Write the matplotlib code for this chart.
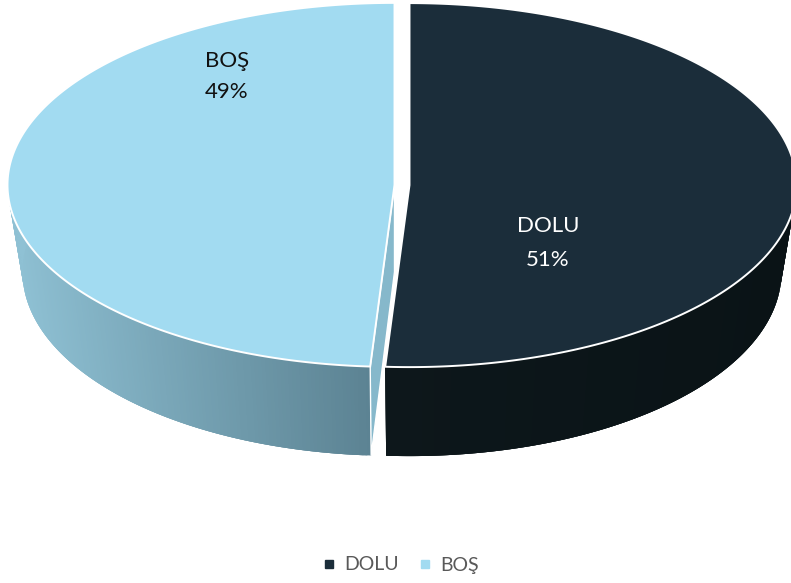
import numpy as np
import matplotlib.pyplot as plt
from matplotlib.patches import Polygon
from matplotlib.lines import Line2D
from matplotlib.colors import to_rgb

plt.rcParams['font.family'] = ['Lato', 'DejaVu Sans']

# ---- data ----
labels = ['DOLU', 'BOŞ']
values = [51, 49]
pct_labels = ['51%', '49%']
top_colors = ['#1b2d3a', '#a2dbf1']
side_left = ['#0d171b', '#8fc1d4']
side_right = ['#0a1316', '#5c8393']
cut_colors = ['#0d171b', '#86b8cb']
label_colors = ['white', '#111111']
label_pos = [(548, 232, 266), (227, 67, 98)]  # x, baseline name, baseline pct
legend_color = '#595959'

# ---- layout (pixels) ----
W, H = 791, 583
CX, CY, RX, RY = 402, 185, 387, 182
BCY, BRX, BRY = 272, 372, 184
EXPLODE = 7.5

fig = plt.figure(figsize=(W / 100, H / 100), dpi=100)
ax = fig.add_axes([0, 0, 1, 1])
ax.set_xlim(0, W)
ax.set_ylim(H, 0)
ax.axis('off')

fr = np.array(values, dtype=float) / sum(values)
starts = 90 - 360 * np.concatenate([[0], np.cumsum(fr)[:-1]])
ends = starts - 360 * fr


def geom(i):
    mid = np.radians((starts[i] + ends[i]) / 2)
    ox = EXPLODE * np.cos(mid)
    oy = -EXPLODE * np.sin(mid) * RY / RX
    return ox, oy


def top_pt(i, th):
    ox, oy = geom(i)
    t = np.radians(th)
    return CX + ox + RX * np.cos(t), CY + oy - RY * np.sin(t)


def bot_pt(i, th):
    ox, oy = geom(i)
    t = np.radians(th)
    return CX + ox + BRX * np.cos(t), BCY + oy - BRY * np.sin(t)


def lerp(c1, c2, f):
    a, b = np.array(to_rgb(c1)), np.array(to_rgb(c2))
    return tuple(a + (b - a) * f)


# sides (overlapping strips so no anti-alias seams)
for i in range(len(values)):
    ths = np.linspace(starts[i], ends[i], 300)
    ths = ths[np.sin(np.radians(ths)) <= 0.35]
    xs = [top_pt(i, t)[0] for t in ths]
    xmin, xmax = min(xs), max(xs)
    for k in range(len(ths) - 1):
        a = ths[k]
        b = ths[min(k + 3, len(ths) - 1)]
        q = [top_pt(i, a), top_pt(i, b), bot_pt(i, b), bot_pt(i, a)]
        f = (xs[k] - xmin) / (xmax - xmin) if xmax > xmin else 0
        c = lerp(side_left[i], side_right[i], f)
        ax.add_patch(Polygon(q, closed=True, facecolor=c, edgecolor='none', zorder=1))

# cut faces
for i in range(len(values)):
    ox, oy = geom(i)
    for th, nrm in [(starts[i], starts[i] + 90), (ends[i], ends[i] - 90)]:
        if np.sin(np.radians(nrm)) < -1e-3:
            poly = [(CX + ox, CY + oy), top_pt(i, th), bot_pt(i, th), (CX + ox, BCY + oy)]
            ax.add_patch(Polygon(poly, closed=True, facecolor=cut_colors[i],
                                 edgecolor='white', lw=1.0, zorder=2))

# tops
for i in range(len(values)):
    ox, oy = geom(i)
    ths = np.linspace(starts[i], ends[i], 600)
    poly = [(CX + ox, CY + oy)] + [top_pt(i, t) for t in ths]
    ax.add_patch(Polygon(poly, closed=True, facecolor=top_colors[i],
                         edgecolor='white', lw=1.4, zorder=3))

# labels
for i in range(len(values)):
    x, y1, y2 = label_pos[i]
    ax.text(x, y1, labels[i], ha='center', va='baseline', fontsize=16,
            color=label_colors[i], zorder=5)
    ax.text(x, y2, pct_labels[i], ha='center', va='baseline', fontsize=16,
            color=label_colors[i], zorder=5)

handles = [Line2D([], [], marker='s', ls='none', markersize=5.5, color=c) for c in top_colors]
fig.legend(handles, labels, loc='center', bbox_to_anchor=(0.507, 1 - 565 / H), ncol=2,
           frameon=False, fontsize=14, labelcolor=legend_color, handlelength=0.6,
           handletextpad=0.5, columnspacing=1.0)

fig.savefig('out.png', dpi=100)
